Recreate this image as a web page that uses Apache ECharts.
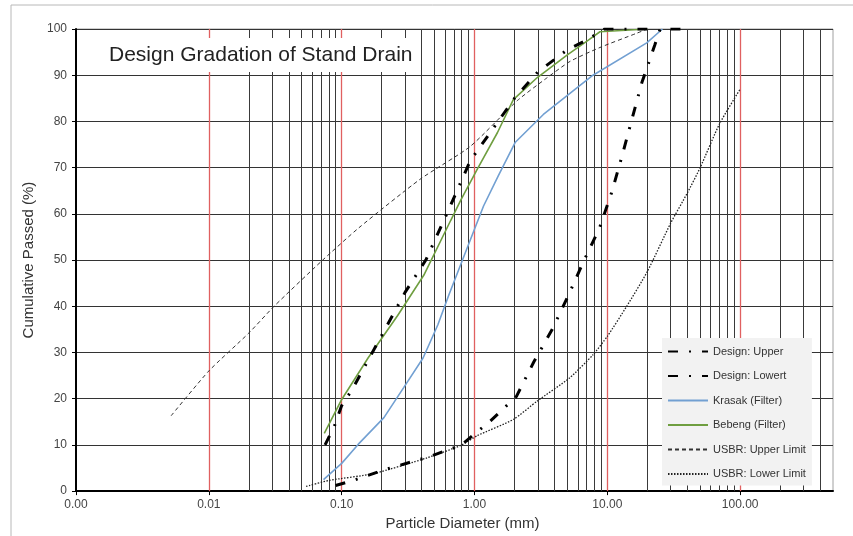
<!DOCTYPE html>
<html><head><meta charset="utf-8">
<script src="https://cdn.jsdelivr.net/npm/echarts@6/dist/echarts.min.js"></script>
<style>html,body{margin:0;padding:0;background:#fff}#c{width:853px;height:536px}</style>
</head><body><div id="c"></div>
<script>
// Particle diameters (mm) and cumulative passed (%)
const designUpperD = [0.075, 0.088, 0.1, 0.12, 0.19, 0.3, 0.43, 0.63, 0.93, 1.4, 2, 3, 5, 7, 9.5, 20];
const designUpperP = [10, 14, 18.5, 22, 32.5, 43, 50, 60.5, 71.5, 78.7, 85, 90.7, 95.5, 97.6, 100, 100];

const designLowerD = [0.09, 0.122, 0.22, 0.44, 0.79, 1.32, 2.07, 2.8, 3.85, 5.1, 6.6, 8.7, 10.8, 12.9, 15.3, 18.2, 22.8, 25, 40];
const designLowerP = [1.2, 2.3, 4.8, 7.3, 9.9, 15.2, 20.5, 28, 35, 42.4, 49.6, 56.8, 64.7, 72.5, 80.4, 88.4, 96.6, 100, 100];

const krasakD = [0.073, 0.1, 0.133, 0.208, 0.293, 0.41, 0.53, 0.64, 0.83, 1.17, 1.51, 2.03, 3.3, 7.8, 19.8, 26];
const krasakP = [2.5, 6, 10.1, 15.9, 22.4, 28.8, 36, 42.4, 50.7, 61.7, 68.2, 75.5, 81.5, 90, 97, 100];

const bebengD = [0.074, 0.099, 0.158, 0.264, 0.415, 0.66, 0.79, 1.05, 1.49, 1.96, 2.97, 5.0, 7.2, 8.8, 20];
const bebengP = [12.5, 19.6, 28.8, 38, 46.7, 58.5, 63, 69.7, 77.6, 84.7, 89.5, 94.4, 97.6, 99.4, 100];

const usbrUpperD = [0.0052, 0.01, 0.02, 0.031, 0.072, 0.135, 0.39, 0.93, 2.1, 3.5, 5.25, 8.8, 16.7, 20];
const usbrUpperP = [16.3, 26, 34.2, 40, 50, 57, 67.5, 74.6, 84.5, 89.4, 93, 96, 99.1, 100];

const usbrLowerD = [0.054, 0.08, 0.175, 0.44, 0.79, 1.05, 1.96, 2.97, 5.2, 7.8, 10, 14, 20, 30, 40, 50, 70, 100];
const usbrLowerP = [1.0, 2.3, 3.8, 7.2, 9.9, 12, 15.5, 19.5, 24.5, 29.5, 33.5, 40, 47.5, 58, 64.5, 70, 79.5, 87];

const seriesNames = ['Design: Upper', 'Design: Lowert', 'Krasak (Filter)', 'Bebeng (Filter)', 'USBR: Upper Limit', 'USBR: Lower Limit'];
const yTicks = [0, 10, 20, 30, 40, 50, 60, 70, 80, 90, 100];
const xTickLabels = ['0.00', '0.01', '0.10', '1.00', '10.00', '100.00'];

const pairs = (d, p) => d.map((v, i) => [v, p[i]]);
const decades = [0.001, 0.01, 0.1, 1, 10, 100];
const minorGrid = [];
decades.forEach(b => { for (let k = 2; k <= 9; k++) { const v = +(b * k).toPrecision(3); if (v < 500) minorGrid.push(v); } });
const decadeGrid = decades.slice(1);

const chart = echarts.init(document.getElementById('c'), null, {renderer: 'canvas'});
const FONT = 'Liberation Sans, Arial, sans-serif';
chart.setOption({
  animation: false,
  textStyle: {fontFamily: FONT},
  graphic: [{type: 'rect', silent: true, z: 0, shape: {x: 11, y: 5, width: 860, height: 560},
    style: {fill: 'none', stroke: '#b8b8b8', lineWidth: 1}}],
  title: {
    text: 'Design Gradation of Stand Drain', left: 103, top: 38, padding: [5, 6],
    backgroundColor: '#fff', z: 20,
    textStyle: {fontFamily: FONT, fontSize: 21, fontWeight: 'normal', color: '#222', lineHeight: 24}
  },
  legend: {
    data: seriesNames, orient: 'vertical', left: 662, top: 338,
    padding: [8, 6, 6, 5], itemWidth: 40, itemHeight: 10, itemGap: 13.5,
    backgroundColor: '#f2f2f2', z: 20,
    itemStyle: {opacity: 0},
    textStyle: {fontFamily: FONT, fontSize: 11, color: '#333'}
  },
  grid: {left: 76, right: 20, top: 29, bottom: 42, show: true, borderColor: '#a0a0a0', borderWidth: 1, backgroundColor: '#fff'},
  xAxis: {
    type: 'log', logBase: 10, min: 0.001, max: 500,
    name: 'Particle Diameter (mm)', nameLocation: 'middle', nameGap: 19,
    nameTextStyle: {fontFamily: FONT, fontSize: 15, color: '#333', verticalAlign: 'top', padding: [0, 0, 0, 16]},
    axisLine: {show: true, lineStyle: {color: '#000', width: 2}},
    axisTick: {show: true, length: 4, lineStyle: {color: '#000', width: 1}},
    axisLabel: {fontFamily: FONT, fontSize: 12, color: '#444', margin: 8, showMaxLabel: false,
      formatter: v => { const i = Math.round(Math.log10(v)) + 3; return (Math.abs(Math.log10(v) - (i - 3)) < 1e-6 && xTickLabels[i]) ? xTickLabels[i] : ''; }},
    splitLine: {show: false},
    minorTick: {show: false}, minorSplitLine: {show: false}
  },
  yAxis: {
    type: 'value', min: 0, max: 100, interval: 10,
    name: 'Cumulative Passed (%)', nameLocation: 'middle', nameGap: 40,
    nameTextStyle: {fontFamily: FONT, fontSize: 15, color: '#333'},
    axisLine: {show: true, lineStyle: {color: '#000', width: 2}},
    axisTick: {show: true, length: 4, lineStyle: {color: '#000', width: 1}},
    axisLabel: {fontFamily: FONT, fontSize: 12, color: '#444', margin: 9, formatter: v => yTicks.includes(v) ? String(v) : ''},
    splitLine: {show: true, lineStyle: {color: '#333', width: 1}}
  },
  series: [
    {type: 'line', data: [], silent: true, z: 1, symbol: 'none',
      markLine: {silent: true, symbol: ['none', 'none'], label: {show: false}, animation: false,
        lineStyle: {color: '#3a3a3a', width: 1, type: 'solid'},
        emphasis: {disabled: true},
        data: minorGrid.map(v => ({xAxis: v}))}},
    {type: 'line', data: [], silent: true, z: 2, symbol: 'none',
      markLine: {silent: true, symbol: ['none', 'none'], label: {show: false}, animation: false,
        lineStyle: {color: '#e06060', width: 1.3, type: 'solid'},
        emphasis: {disabled: true},
        data: decadeGrid.map(v => ({xAxis: v}))}},
    {name: seriesNames[0], type: 'line', data: pairs(designUpperD, designUpperP), symbol: 'none', z: 6,
      lineStyle: {color: '#000', width: 3, type: [10, 11, 2, 11]}, itemStyle: {color: '#000'}},
    {name: seriesNames[1], type: 'line', data: pairs(designLowerD, designLowerP), symbol: 'none', z: 6,
      lineStyle: {color: '#000', width: 3, type: [10, 11, 2, 11]}, itemStyle: {color: '#000'}},
    {name: seriesNames[2], type: 'line', data: pairs(krasakD, krasakP), symbol: 'none', z: 5,
      lineStyle: {color: '#72a0d2', width: 1.6}, itemStyle: {color: '#72a0d2'}},
    {name: seriesNames[3], type: 'line', data: pairs(bebengD, bebengP), symbol: 'none', z: 5,
      lineStyle: {color: '#6f9e40', width: 1.6}, itemStyle: {color: '#6f9e40'}},
    {name: seriesNames[4], type: 'line', data: pairs(usbrUpperD, usbrUpperP), symbol: 'none', z: 5, smooth: 0.2,
      lineStyle: {color: '#333', width: 1, type: [4, 3]}, itemStyle: {color: '#333'}},
    {name: seriesNames[5], type: 'line', data: pairs(usbrLowerD, usbrLowerP), symbol: 'none', z: 5, smooth: 0.2,
      lineStyle: {color: '#222', width: 1.3, type: [1.5, 1.5]}, itemStyle: {color: '#222'}}
  ]
});
</script></body></html>
